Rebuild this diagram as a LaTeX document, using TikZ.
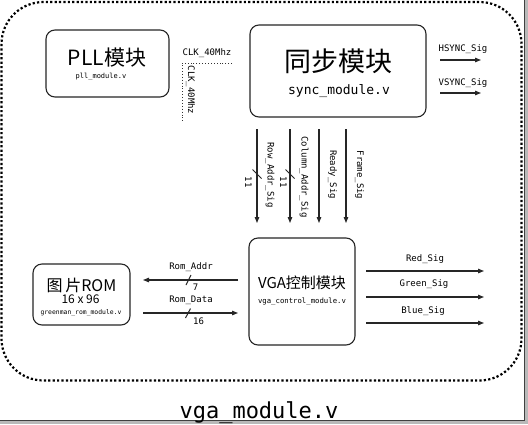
\documentclass[tikz,border=0pt]{standalone}
\usepackage{fontspec}
\setmainfont{Noto Sans CJK SC}
\setmonofont{DejaVu Sans Mono}
\usetikzlibrary{arrows.meta}

\begin{document}
\begin{tikzpicture}[x=1pt,y=-1pt,
    box/.style={draw=black!85, line width=1.1pt, rounded corners=9pt},
    sig/.style={draw=black!85, line width=1.1pt, -{Triangle[length=6pt,width=4.5pt]}},
    lbl/.style={font=\fontsize{9}{9}\selectfont\ttfamily, inner sep=1pt},
    slash/.style={draw=black!85, line width=1pt}]
    \useasboundingbox (0,0) rectangle (528,424);
    \fill[white] (0,0) rectangle (528,424);
    \fill[gray!55] (524,0) rectangle (528,424);
    \fill[gray!55] (0,420) rectangle (528,424);
    \draw[black!75, line width=0.8pt] (524,0) -- (524,420) -- (0,420);

    \draw[line width=2.2pt, dash pattern=on 2.2pt off 2.2pt, rounded corners=42pt] (1.5,2) rectangle (521.5,380.5);

    % boxes
    \node[box, minimum width=123pt, minimum height=67pt] (pll) at (107.5,63.5) {};
    \node (plltitle) at (107,58) {\fontsize{21}{21}\selectfont PLL模块};
    \node (pllfile) at (101,77) {\fontsize{7}{7}\selectfont\ttfamily pll\_module.v};

    \node[box, minimum width=176pt, minimum height=92pt] (sync) at (338,71) {};
    \node (synctitle) at (338,61) {\fontsize{27}{27}\selectfont 同步模块};
    \node (syncfile) at (339,91) {\fontsize{13}{13}\selectfont\ttfamily sync\_module.v};

    \node[box, minimum width=106pt, minimum height=107pt] (vga) at (302,291.5) {};
    \node (vgatitle) at (302,283) {\fontsize{15}{15}\selectfont VGA控制模块};
    \node (vgafile) at (302,302) {\fontsize{7.3}{7.3}\selectfont\ttfamily vga\_control\_module.v};

    \node[box, minimum width=97pt, minimum height=61pt] (rom) at (81.5,294.5) {};
    \node (romtitle) at (81.5,285) {\fontsize{16}{16}\selectfont 图\,片ROM};
    \node (romsize) at (80.5,299) {\fontsize{12}{12}\selectfont 16 x 96};
    \node (romfile) at (81,313) {\fontsize{6.4}{6.4}\selectfont\ttfamily greenman\_rom\_module.v};

    % clock
    \coordinate (clka) at (232,63);
    \coordinate (clkb) at (182,63);
    \coordinate (clkc) at (182,122);
    \draw[black!80, line width=0.9pt, dotted] (clka) -- (clkb) -- (clkc);
    \node[lbl] (clkh) at (207,53) {CLK\_40Mhz};
    \node[lbl, rotate=-90] (clkv) at (190.5,90) {CLK\_40Mhz};

    % sync outputs
    \coordinate (hs0) at (440,60);
    \coordinate (hs1) at (481,60);
    \coordinate (vs0) at (440,93);
    \coordinate (vs1) at (481,93);
    \draw[sig] (hs0) -- (hs1);
    \draw[sig] (vs0) -- (vs1);
    \node[lbl] (hslbl) at (463,49) {HSYNC\_Sig};
    \node[lbl] (vslbl) at (463,83) {VSYNC\_Sig};

    % sync -> vga
    \foreach \n/\x in {row/257,col/290,rdy/319,frm/346}{
        \coordinate (\n0) at (\x,129);
        \coordinate (\n1) at (\x,223);
        \draw[sig] (\n0) -- (\n1);
    }
    \node[lbl, rotate=-90] (rowlbl) at (270,175) {Row\_Addr\_Sig};
    \node[lbl, rotate=-90] (collbl) at (304,177) {Column\_Addr\_Sig};
    \node[lbl, rotate=-90] (rdylbl) at (332.5,174.5) {Ready\_Sig};
    \node[lbl, rotate=-90] (frmlbl) at (359.5,175) {Frame\_Sig};
    \draw[slash] (252.5,169.5) -- (261.5,178.5);
    \draw[slash] (285.5,169.5) -- (294.5,178.5);
    \node[lbl, rotate=-90] (rowbits) at (248.5,182) {11};
    \node[lbl, rotate=-90] (colbits) at (283.5,182) {11};

    % vga outputs
    \foreach \n/\y in {red/271,grn/297,blu/323}{
        \coordinate (\n0) at (366,\y);
        \coordinate (\n1) at (484,\y);
        \draw[sig] (\n0) -- (\n1);
    }
    \node[lbl] (redlbl) at (425,259) {Red\_Sig};
    \node[lbl] (grnlbl) at (424,284) {Green\_Sig};
    \node[lbl] (blulbl) at (423,311) {Blue\_Sig};

    % rom
    \coordinate (ra0) at (238,280);
    \coordinate (ra1) at (143,280);
    \coordinate (rd0) at (143,313);
    \coordinate (rd1) at (238,313);
    \draw[sig] (ra0) -- (ra1);
    \draw[sig] (rd0) -- (rd1);
    \node[lbl] (ralbl) at (191,267) {Rom\_Addr};
    \node[lbl] (rdlbl) at (191,300.5) {Rom\_Data};
    \draw[slash] (186,285) -- (191,275);
    \draw[slash] (185.5,318) -- (190.5,308.5);
    \node[lbl] (rabits) at (195.5,287.5) {7};
    \node[lbl] (rdbits) at (198.5,321) {16};

    \node[anchor=base] (top) at (259,418) {\fontsize{22}{22}\selectfont\ttfamily vga\_module.v};
\end{tikzpicture}
\end{document}
